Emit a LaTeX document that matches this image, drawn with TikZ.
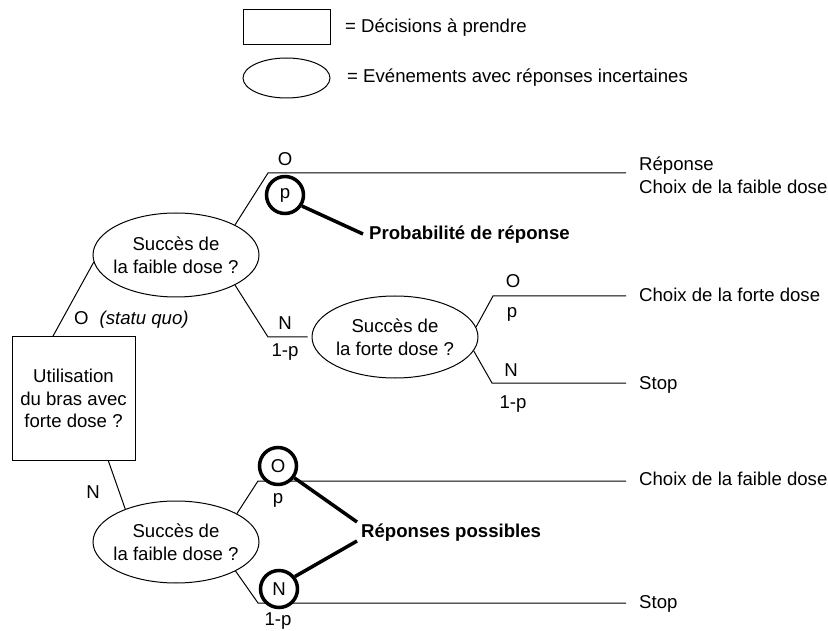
\documentclass[tikz,border=0pt]{standalone}
\usepackage{fontspec}
\setmainfont{Liberation Sans}
\usetikzlibrary{shapes.geometric,calc}
\begin{document}
\begin{tikzpicture}[x=1pt,y=-1pt,
  every node/.style={font=\fontsize{18.6}{22.5}\selectfont},
  bold/.style={font=\fontsize{18.6}{22.5}\selectfont\bfseries},
  decision/.style={draw, line width=1pt, rectangle, inner sep=0, align=center},
  chance/.style={draw, line width=1pt, ellipse, inner sep=0},
  callcirc/.style={draw, circle, line width=3.5pt, fill=white, minimum size=37pt, inner sep=0},
  lab/.style={inner sep=0, text height=13pt, text depth=4pt},
  branch/.style={line width=1pt},
  callout/.style={line width=3.5pt}
]
\useasboundingbox (0,0) rectangle (828,631);

% legend
\node[decision, minimum width=87, minimum height=35] (legrect) at (286.5,27.5) {};
\node[lab, anchor=west] (legrecttxt) at (345,28) {= Décisions à prendre};
\node[chance, minimum width=87, minimum height=40] (legell) at (286.5,78) {};
\node[lab, anchor=west] (legelltxt) at (347,78) {= Evénements avec réponses incertaines};

% main nodes
\node[decision, minimum width=123, minimum height=123] (box) at (73.5,398.5) {Utilisation\\du bras avec\\forte dose ?};
\node[chance, minimum width=166, minimum height=84] (e1) at (176,255) {};
\node[align=center, inner sep=0] (e1t) at (e1) {Succès de\\la faible dose ?};
\node[chance, minimum width=166, minimum height=82] (e2) at (395,337) {};
\node[align=center, inner sep=0] (e2t) at (e2) {Succès de\\la forte dose ?};
\node[chance, minimum width=166, minimum height=82] (e3) at (176,542) {};
\node[align=center, inner sep=0] (e3t) at (e3) {Succès de\\la faible dose ?};

% coordinates
\coordinate (boxtop) at ($(box.north west)!0.333!(box.north east)$);
\coordinate (boxbot) at ($(box.south west)!0.78!(box.south east)$);
\coordinate (k1) at (268,173);
\coordinate (k1end) at (626,173);
\coordinate (k2) at (268,337);
\coordinate (k3) at (493,296);
\coordinate (k3end) at (626,296);
\coordinate (k4) at (492,383);
\coordinate (k4end) at (626,383);
\coordinate (k5) at (258,481);
\coordinate (k5end) at (626,481);
\coordinate (k6) at (258,603);
\coordinate (k6end) at (626,603);

% branches
\draw[branch] (boxtop) -- (e1.185);
\draw[branch] (boxbot) -- (e3.147);
\draw[branch] (e1.27) -- (k1) -- (k1end);
\draw[branch, shorten >=4pt] (e1.-27) -- (k2) -- (e2.west);
\draw[branch] (e2.7) -- (k3) -- (k3end);
\draw[branch] (e2.-10) -- (k4) -- (k4end);
\draw[branch] (e3.25) -- (k5) -- (k5end);
\draw[branch] (e3.-26) -- (k6) -- (k6end);

% callout circles
\node[callcirc] (cp) at (285,195) {p};
\node[callcirc] (cO) at (278,466) {O};
\node[callcirc] (cN) at (279,589) {N};

\coordinate (probend) at (363,234);
\draw[callout] (cp.-33) -- (probend);
\node[lab, bold, anchor=west] (probtxt) at (369,235) {Probabilité de réponse};

\coordinate (resptop) at (357,522);
\coordinate (respbot) at (357,541);
\draw[callout] (cO.-36) -- (resptop);
\draw[callout] (cN.38) -- (respbot);
\node[lab, bold, anchor=west] (resptxt) at (361,533) {Réponses possibles};

% branch labels
\node[lab, anchor=west] (lstatu) at (74,320) {O\hspace{11pt}\textit{(statu quo)}};
\node[lab] (lO1) at (285,161) {O};
\node[lab] (lN1) at (285,325) {N};
\node[lab] (lq1) at (285,352) {1-p};
\node[lab] (lO2) at (513,283) {O};
\node[lab] (lp2) at (512,313) {p};
\node[lab] (lN2) at (511,372) {N};
\node[lab] (lq2) at (513,404) {1-p};
\node[lab] (lN0) at (93,494) {N};
\node[lab] (lp3) at (278,499) {p};
\node[lab] (lq3) at (278,621) {1-p};

% outcomes
\node[anchor=west, align=left, inner sep=0] (r1) at (639,175) {Réponse\\Choix de la faible dose};
\node[lab, anchor=west] (r2) at (639,297) {Choix de la forte dose};
\node[lab, anchor=west] (r3) at (639,385) {Stop};
\node[lab, anchor=west] (r4) at (639,481) {Choix de la faible dose};
\node[lab, anchor=west] (r5) at (639,604) {Stop};
\end{tikzpicture}
\end{document}
